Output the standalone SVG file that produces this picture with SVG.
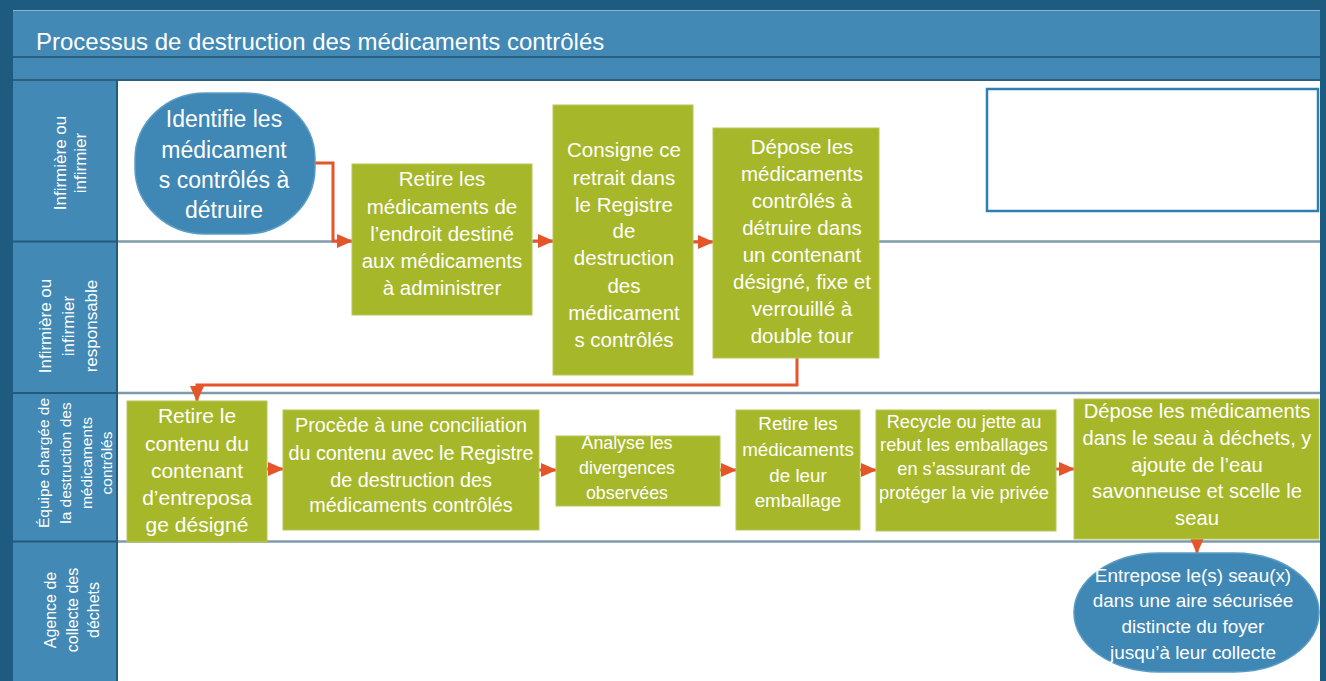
<svg xmlns="http://www.w3.org/2000/svg" width="1326" height="681" viewBox="0 0 1326 681">
<defs>
<style>
.t{font-family:"Liberation Sans",Arial,sans-serif;fill:#fff;text-anchor:middle;dominant-baseline:central}
.box{fill:#a6b82a;stroke:#b7c65a;stroke-width:1}
.term{fill:#3f87b5;stroke:#5b9cc5;stroke-width:1.5}
.lane{stroke:#7f9aab;stroke-width:2.5;fill:none}
.hl{stroke:#245a7a;stroke-width:2;fill:none}
.c{stroke:#e4562a;stroke-width:3;fill:none}
</style>
<marker id="ah" viewBox="0 0 16 14" refX="15" refY="7" markerWidth="16" markerHeight="14" markerUnits="userSpaceOnUse" orient="auto">
<path d="M0,0 L16,7 L0,14 Z" fill="#e4562a"/>
</marker>
</defs>
<rect x="0" y="0" width="1326" height="681" fill="#1d5c80"/>
<rect x="13" y="10" width="1307" height="671" fill="#4289b5"/>
<line x1="13" y1="10.5" x2="1320" y2="10.5" stroke="#8fb5cf" stroke-width="1"/>
<line x1="13" y1="57" x2="1320" y2="57" stroke="#2a5f7f" stroke-width="2"/>
<line x1="13" y1="80" x2="1320" y2="80" stroke="#2a5f7f" stroke-width="2"/>
<rect x="118" y="81" width="1202" height="600" fill="#ffffff"/>
<line class="hl" x1="117" y1="80" x2="117" y2="681"/>
<line class="hl" x1="13" y1="241.5" x2="117" y2="241.5"/>
<line class="hl" x1="13" y1="393" x2="117" y2="393"/>
<line class="hl" x1="13" y1="541.5" x2="117" y2="541.5"/>
<line class="lane" x1="118" y1="241.5" x2="1320" y2="241.5"/>
<line class="lane" x1="118" y1="393" x2="1320" y2="393"/>
<line class="lane" x1="118" y1="541.5" x2="1320" y2="541.5"/>
<text x="36" y="50" font-family="Liberation Sans, Arial, sans-serif" font-size="24" fill="#fff">Processus de destruction des médicaments contrôlés</text>
<g id="lane-labels" class="t">
<text transform="translate(60,163) rotate(-90)" font-size="17">Infirmière ou</text>
<text transform="translate(80,163) rotate(-90)" font-size="17">infirmier</text>
<text transform="translate(45,326) rotate(-90)" font-size="17">Infirmière ou</text>
<text transform="translate(68,326) rotate(-90)" font-size="17">infirmier</text>
<text transform="translate(91,326) rotate(-90)" font-size="17">responsable</text>
<text transform="translate(43,463) rotate(-90)" font-size="15.5">Équipe chargée de</text>
<text transform="translate(65,463) rotate(-90)" font-size="15.5">la destruction des</text>
<text transform="translate(86,463) rotate(-90)" font-size="15.5">médicaments</text>
<text transform="translate(106,463) rotate(-90)" font-size="15.5">contrôlés</text>
<text transform="translate(50,610) rotate(-90)" font-size="16">Agence de</text>
<text transform="translate(72,610) rotate(-90)" font-size="16">collecte des</text>
<text transform="translate(93,610) rotate(-90)" font-size="16">déchets</text>
</g>
<g id="blank">
<rect x="987" y="89" width="331" height="122" fill="#fff" stroke="#2e7db5" stroke-width="2.5"/>
</g>
<g id="connectors">
<path class="c" d="M314,163 H333 V241 H352" marker-end="url(#ah)"/>
<path class="c" d="M533,241 H553" marker-end="url(#ah)"/>
<path class="c" d="M693,242 H713" marker-end="url(#ah)"/>
<path class="c" d="M797,358 V385 H197 V401" marker-end="url(#ah)"/>
<path class="c" d="M267,469 H283" marker-end="url(#ah)"/>
<path class="c" d="M539,470 H556" marker-end="url(#ah)"/>
<path class="c" d="M720,470 H736" marker-end="url(#ah)"/>
<path class="c" d="M860,470 H876" marker-end="url(#ah)"/>
<path class="c" d="M1056,469 H1074" marker-end="url(#ah)"/>
<path class="c" d="M1197,539 V553" marker-end="url(#ah)"/>
</g>
<g id="n1">
<rect class="term" x="135" y="93" width="180" height="141" rx="70" ry="66"/>
<text class="t" font-size="23" x="224"><tspan x="224" y="119">Identifie les</tspan><tspan x="224" y="150">médicament</tspan><tspan x="224" y="180">s contrôlés à</tspan><tspan x="224" y="210">détruire</tspan></text>
</g>
<g id="n2">
<rect class="box" x="352" y="164" width="180" height="151"/>
<text class="t" font-size="20.5"><tspan x="442" y="178">Retire les</tspan><tspan x="442" y="205.5">médicaments de</tspan><tspan x="442" y="233">l’endroit destiné</tspan><tspan x="442" y="260">aux médicaments</tspan><tspan x="442" y="287">à administrer</tspan></text>
</g>
<g id="n3">
<rect class="box" x="553" y="105" width="140" height="270"/>
<text class="t" font-size="20.5"><tspan x="624" y="149">Consigne ce</tspan><tspan x="624" y="176.5">retrait dans</tspan><tspan x="624" y="203.5">le Registre</tspan><tspan x="624" y="230">de</tspan><tspan x="624" y="257">destruction</tspan><tspan x="624" y="285">des</tspan><tspan x="624" y="312">médicament</tspan><tspan x="624" y="339">s contrôlés</tspan></text>
</g>
<g id="n4">
<rect class="box" x="713" y="128" width="166" height="230"/>
<text class="t" font-size="20.5"><tspan x="802" y="146">Dépose les</tspan><tspan x="802" y="173">médicaments</tspan><tspan x="802" y="200">contrôlés à</tspan><tspan x="802" y="227">détruire dans</tspan><tspan x="802" y="254">un contenant</tspan><tspan x="802" y="281">désigné, fixe et</tspan><tspan x="802" y="308">verrouillé à</tspan><tspan x="802" y="335">double tour</tspan></text>
</g>
<g id="n5">
<rect class="box" x="127" y="401" width="140" height="141"/>
<text class="t" font-size="21"><tspan x="197" y="415">Retire le</tspan><tspan x="197" y="442.5">contenu du</tspan><tspan x="197" y="470">contenant</tspan><tspan x="197" y="497">d’entreposa</tspan><tspan x="197" y="523.5">ge désigné</tspan></text>
</g>
<g id="n6">
<rect class="box" x="283" y="410" width="256" height="120"/>
<text class="t" font-size="19.8"><tspan x="411" y="425">Procède à une conciliation</tspan><tspan x="411" y="453">du contenu avec le Registre</tspan><tspan x="411" y="480">de destruction des</tspan><tspan x="411" y="505">médicaments contrôlés</tspan></text>
</g>
<g id="n7">
<rect class="box" x="556" y="436" width="164" height="70"/>
<text class="t" font-size="17.8"><tspan x="627" y="443">Analyse les</tspan><tspan x="627" y="468">divergences</tspan><tspan x="627" y="493">observées</tspan></text>
</g>
<g id="n8">
<rect class="box" x="736" y="410" width="124" height="120"/>
<text class="t" font-size="18.8"><tspan x="798" y="423">Retire les</tspan><tspan x="798" y="449">médicaments</tspan><tspan x="798" y="475">de leur</tspan><tspan x="798" y="500">emballage</tspan></text>
</g>
<g id="n9">
<rect class="box" x="876" y="410" width="180" height="121"/>
<text class="t" font-size="18.2"><tspan x="964" y="421.5">Recycle ou jette au</tspan><tspan x="964" y="445">rebut les emballages</tspan><tspan x="964" y="469">en s’assurant de</tspan><tspan x="964" y="493">protéger la vie privée</tspan></text>
</g>
<g id="n10">
<rect class="box" x="1074" y="399" width="245" height="140"/>
<text class="t" font-size="20.2"><tspan x="1197" y="411">Dépose les médicaments</tspan><tspan x="1197" y="438">dans le seau à déchets, y</tspan><tspan x="1197" y="464.5">ajoute de l’eau</tspan><tspan x="1197" y="491">savonneuse et scelle le</tspan><tspan x="1197" y="518">seau</tspan></text>
</g>
<g id="n11">
<rect class="term" x="1074" y="553" width="245" height="119" rx="85" ry="59"/>
<text class="t" font-size="18.9"><tspan x="1193" y="575">Entrepose le(s) seau(x)</tspan><tspan x="1193" y="600">dans une aire sécurisée</tspan><tspan x="1193" y="626">distincte du foyer</tspan><tspan x="1193" y="652">jusqu’à leur collecte</tspan></text>
</g>
</svg>
